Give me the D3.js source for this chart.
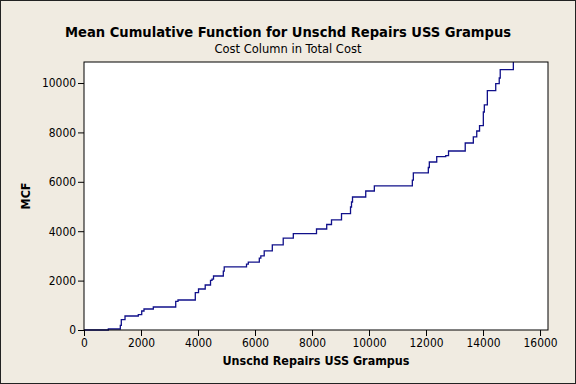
<!DOCTYPE html>
<html>
<head>
<meta charset="utf-8">
<script src="https://cdn.jsdelivr.net/npm/d3@7"></script>
<style>
  body { margin: 0; background: #f0ebe1; }
  svg { display: block; }
  text { font-family: "DejaVu Sans Condensed", "DejaVu Sans", sans-serif; }
</style>
</head>
<body>
<svg id="chart" width="576" height="384"></svg>
<script>
// step points of the MCF (age, cumulative cost)
const ages = [0, 853, 1274, 1309, 1439, 1905, 2025, 2105, 2432, 3218, 3298, 3905, 4018,
  4253, 4439, 4491, 4544, 4888, 4920, 5702, 5765, 6151, 6204, 6323, 6607, 6990, 7344,
  8158, 8516, 8684, 9035, 9351, 9386, 9421, 9885, 10187, 11520, 11555, 12081, 12116,
  12376, 12692, 12790, 13376, 13660, 13780, 13878, 14011, 14046, 14152, 14446, 14569,
  14604, 15064];
const mcf = [0, 40, 186, 417, 567, 619, 769, 850, 931, 1158, 1215, 1510, 1660,
  1822, 2008, 2057, 2186, 2381, 2555, 2664, 2745, 2907, 3000, 3203, 3446, 3717, 3899,
  4089, 4271, 4458, 4709, 4980, 5182, 5385, 5628, 5838, 6065, 6361, 6579, 6802,
  7017, 7057, 7247, 7571, 7818, 8057, 8272, 8826, 9114, 9689, 9972, 10203,
  10539, 10851];

const xTicks = [0, 2000, 4000, 6000, 8000, 10000, 12000, 14000, 16000];
const yTicks = [0, 2000, 4000, 6000, 8000, 10000];

const svg = d3.select("#chart");
const W = 576, H = 384;
const margin = { left: 84, top: 62, right: 28, bottom: 54 };
const pw = W - margin.left - margin.right;
const ph = H - margin.top - margin.bottom;

// shrink/grow font so the text spans roughly the width seen in the picture
function fitText(sel, target, start) {
  sel.style("font-size", start + "px");
  const w = sel.node().getComputedTextLength();
  sel.style("font-size", (start * target / w).toFixed(2) + "px");
}

// outer frame
svg.append("rect")
  .attr("x", 0.5).attr("y", 0.5)
  .attr("width", W - 1).attr("height", H - 1)
  .attr("fill", "#f0ebe1")
  .attr("stroke", "#222").attr("stroke-width", 1);

const x = d3.scaleLinear().domain([0, 16280]).range([0, pw]);
const y = d3.scaleLinear().domain([0, d3.max(mcf)]).range([ph, 0]);

const g = svg.append("g").attr("transform", `translate(${margin.left},${margin.top})`);

g.append("rect")
  .attr("width", pw).attr("height", ph)
  .attr("fill", "#fff");

const pts = ages.map((a, i) => [a, mcf[i]]);
const line = d3.line()
  .x(d => x(d[0]))
  .y(d => y(d[1]))
  .curve(d3.curveStepAfter);

g.append("path")
  .datum(pts)
  .attr("fill", "none")
  .attr("stroke", "#10108a")
  .attr("stroke-width", 1.3)
  .attr("d", line);

g.append("rect")
  .attr("width", pw).attr("height", ph)
  .attr("fill", "none")
  .attr("stroke", "#000").attr("stroke-width", 1);

const xAxis = g.append("g")
  .attr("transform", `translate(0,${ph})`)
  .call(d3.axisBottom(x).tickValues(xTicks).tickSize(6).tickPadding(3).tickFormat(d3.format("d")));
const yAxis = g.append("g")
  .call(d3.axisLeft(y).tickValues(yTicks).tickSize(6).tickPadding(2).tickFormat(d3.format("d")));

[xAxis, yAxis].forEach(a => {
  a.select(".domain").remove();
  a.selectAll("line").attr("stroke", "#000");
  a.selectAll("text")
    .attr("fill", "#000")
    .style("font-family", '"DejaVu Sans Condensed", "DejaVu Sans", sans-serif');
});
// size tick text from the widest label ("10000" ~34px wide)
const probe = yAxis.selectAll("text").filter(d => d === 10000);
fitText(probe, 34, 12);
const tickSize = probe.style("font-size");
xAxis.selectAll("text").style("font-size", tickSize);
yAxis.selectAll("text").style("font-size", tickSize);

const title = svg.append("text")
  .attr("x", 288).attr("y", 37)
  .attr("text-anchor", "middle")
  .style("font-weight", "bold")
  .text("Mean Cumulative Function for Unschd Repairs USS Grampus");
fitText(title, 446, 15);

const sub = svg.append("text")
  .attr("x", 288).attr("y", 53)
  .attr("text-anchor", "middle")
  .text("Cost Column in Total Cost");
fitText(sub, 147, 12);

const xTitle = svg.append("text")
  .attr("x", margin.left + pw / 2).attr("y", 365)
  .attr("text-anchor", "middle")
  .style("font-weight", "bold")
  .text("Unschd Repairs USS Grampus");
fitText(xTitle, 187, 12.5);

svg.append("text")
  .attr("transform", `translate(30,${margin.top + ph / 2}) rotate(-90)`)
  .attr("text-anchor", "middle")
  .style("font-weight", "bold")
  .style("font-size", xTitle.style("font-size"))
  .text("MCF");
</script>
</body>
</html>
